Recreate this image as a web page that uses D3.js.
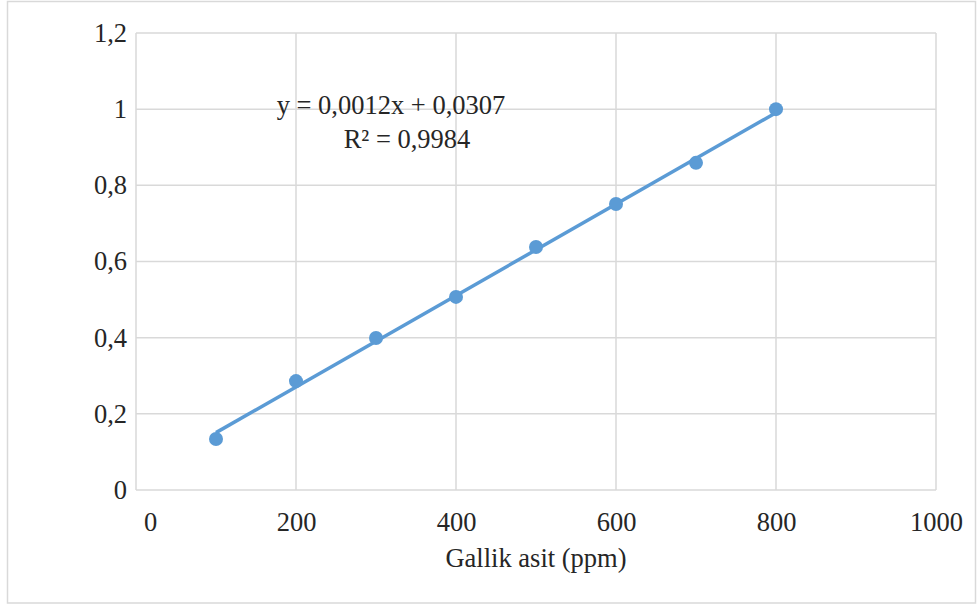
<!DOCTYPE html>
<html>
<head>
<meta charset="utf-8">
<script src="https://cdn.jsdelivr.net/npm/d3@7"></script>
</head>
<body style="margin:0;background:#fff">
<svg id="chart" width="978" height="605" style="display:block"></svg>
<script>
// Gallic acid calibration: concentration (ppm) vs absorbance
const concentrations = [100, 200, 300, 400, 500, 600, 700, 800];
const absorbances = [0.134, 0.286, 0.399, 0.507, 0.638, 0.751, 0.859, 1.0];
const xTicks = [0, 200, 400, 600, 800, 1000];
const yTicks = [0, 0.2, 0.4, 0.6, 0.8, 1, 1.2];
const slope = 0.0012;
const intercept = 0.0307;
const equationLabel = "y = 0,0012x + 0,0307";
const r2Label = "R² = 0,9984";
const xTitle = "Gallik asit (ppm)";

const svg = d3.select("#chart");
const W = 978, H = 605;
const margin = { left: 136, right: 42, top: 33, bottom: 115 };

// every label uses the serif face at one size
function serif(sel) {
  sel.attr("font-family", "Liberation Serif").attr("font-size", 26.5).attr("fill", "#262626");
}

// outer frame
svg.append("rect")
  .attr("x", 7.5).attr("y", 1.5)
  .attr("width", W - 10).attr("height", H - 3.5)
  .attr("fill", "none").attr("stroke", "#d9d9d9").attr("stroke-width", 1.5);

const x = d3.scaleLinear().domain([0, 1000]).range([margin.left, W - margin.right]);
const y = d3.scaleLinear().domain([0, 1.2]).range([H - margin.bottom, margin.top]);

const fmt = d => String(d).replace(".", ",");

// gridlines
svg.append("g").selectAll("line").data(xTicks).join("line")
  .attr("x1", d => x(d)).attr("x2", d => x(d))
  .attr("y1", y(0)).attr("y2", y(1.2))
  .attr("stroke", "#d9d9d9").attr("stroke-width", 1.5);
svg.append("g").selectAll("line").data(yTicks).join("line")
  .attr("x1", x(0)).attr("x2", x(1000))
  .attr("y1", d => y(d)).attr("y2", d => y(d))
  .attr("stroke", "#d9d9d9").attr("stroke-width", 1.5);

// axes (labels only; the lines come from the grid)
const xAxis = svg.append("g")
  .attr("transform", `translate(0,${y(0)})`)
  .call(d3.axisBottom(x).tickValues(xTicks).tickSize(0).tickPadding(22).tickFormat(fmt));
xAxis.select(".domain").remove();
xAxis.selectAll("text").call(serif)
  .attr("dx", d => d === 0 ? 14 : 0);

const yAxis = svg.append("g")
  .attr("transform", `translate(${x(0)},0)`)
  .call(d3.axisLeft(y).tickValues(yTicks).tickSize(0).tickPadding(9).tickFormat(fmt));
yAxis.select(".domain").remove();
yAxis.selectAll("text").call(serif);

// axis title
svg.append("text")
  .attr("x", 536).attr("y", 567)
  .attr("text-anchor", "middle")
  .call(serif)
  .text(xTitle);

const blue = "#5b9bd5";

// linear trendline across the measured range
const x0 = d3.min(concentrations), x1 = d3.max(concentrations);
svg.append("line")
  .attr("x1", x(x0)).attr("y1", y(slope * x0 + intercept))
  .attr("x2", x(x1)).attr("y2", y(slope * x1 + intercept))
  .attr("stroke", blue).attr("stroke-width", 3.5);

// data points
svg.append("g").selectAll("circle")
  .data(concentrations.map((c, i) => [c, absorbances[i]]))
  .join("circle")
  .attr("cx", d => x(d[0])).attr("cy", d => y(d[1]))
  .attr("r", 7).attr("fill", blue);

// regression equation
svg.append("text")
  .attr("x", 391).attr("y", 114).attr("text-anchor", "middle")
  .call(serif).text(equationLabel);
svg.append("text")
  .attr("x", 407).attr("y", 148).attr("text-anchor", "middle")
  .call(serif).text(r2Label);
</script>
</body>
</html>
